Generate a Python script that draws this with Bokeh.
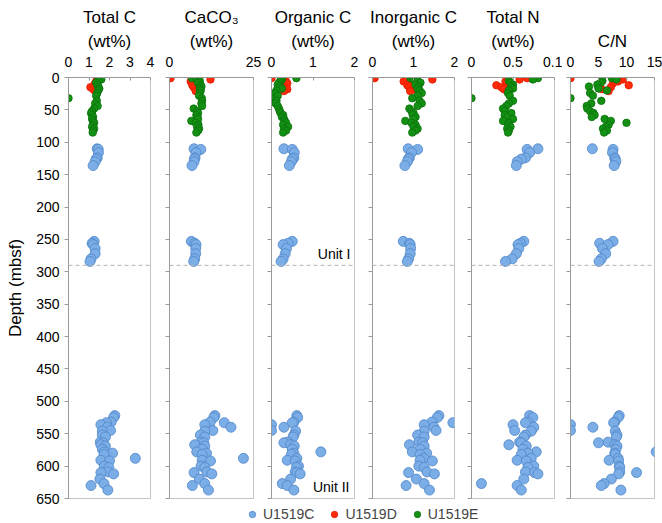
from bokeh.plotting import figure
from bokeh.models import Range1d, FixedTicker, Span, Label, Title, Legend, LegendItem, ColumnDataSource
from bokeh.layouts import row, column
from bokeh.embed import file_html
from bokeh.resources import INLINE

# ---------------- data ----------------
# Site U1519D (red)
depth_D = [1, 3, 6, 9, 12, 15, 18, 21]
tc_D = [1.40, 1.45, 1.35, 1.30, 1.25, 1.07, 1.20, 1.30]
caco3_D = [0.3, 12.2, 6.3, 8.0, 6.8, 7.2, 8.3, 7.8]
toc_D = [0.00, 0.30, 0.35, 0.38, 0.25, 0.32, 0.38, 0.30]
ic_D = [0.05, 1.46, 0.76, 0.95, 0.85, 0.90, 1.00, 0.92]
tn_D = [0.067, 0.058, 0.041, 0.045, 0.030, 0.036, 0.039, 0.043]
cn_D = [0.0, 9.4, 8.5, 7.6, 10.4, 7.2, 5.6, 6.8]

# Site U1519E (green)
depth_E = [1, 3, 5, 8, 11, 14, 17, 20, 24, 28, 32, 36, 40, 44, 48, 52, 55, 58, 61, 64,
           67, 70, 73, 76, 79, 82, 85]
tc_E = [1.50, 1.60, 1.45, 1.35, 1.40, 1.45, 1.50, 1.45, 1.40, 1.35, 0.00, 1.38, 1.30, 1.42,
        1.25, 1.15, 1.10, 1.15, 1.20, 1.15, 1.20, 1.25, 1.20, 1.15, 1.25, 1.20, 1.18]
caco3_E = [6.7, 8.1, 9.0, 8.5, 9.2, 9.5, 9.0, 9.3, 9.0, 8.8, 9.6, 9.7, 9.5, 9.7, 7.2, 8.2,
           8.5, 8.0, 8.3, 8.5, 6.5, 7.8, 8.6, 8.2, 8.8, 8.5, 8.0]
toc_E = [0.60, 0.25, 0.22, 0.18, 0.15, 0.20, 0.25, 0.12, 0.08, 0.15, 0.00, 0.12, 0.10, 0.15,
         0.18, 0.20, 0.22, 0.28, 0.25, 0.30, 0.32, 0.35, 0.28, 0.40, 0.30, 0.35, 0.28]
ic_E = [0.93, 1.00, 1.10, 1.17, 1.05, 1.12, 1.10, 1.15, 1.20, 1.10, 0.97, 1.15, 1.20, 1.10,
        0.90, 0.95, 1.00, 0.98, 1.05, 1.00, 0.80, 0.95, 1.05, 1.00, 1.10, 1.05, 0.97]
tn_E = [0.080, 0.074, 0.045, 0.047, 0.050, 0.048, 0.050, 0.045, 0.044, 0.046, 0.000, 0.050,
        0.045, 0.042, 0.038, 0.040, 0.048, 0.040, 0.043, 0.050, 0.038, 0.045, 0.044, 0.047,
        0.043, 0.045, 0.044]
cn_E = [7.4, 8.2, 5.7, 5.4, 4.8, 3.3, 5.0, 6.5, 3.5, 4.0, 0.0, 5.5, 3.7, 2.9, 3.0, 3.5, 4.1,
        4.3, 3.8, 6.1, 7.2, 10.0, 6.8, 6.3, 5.8, 6.5, 6.0]

# Site U1519C (blue)
depth_C = [110, 111, 116, 124, 126, 130, 136,
           253, 256, 258, 264, 272, 280, 284,
           522, 525, 532, 533, 536, 540, 545, 546, 552, 555, 563, 564, 567, 569, 574, 578,
           580, 582, 588, 591, 592, 600, 602, 609, 610, 612, 620, 627, 630, 637]
tc_C = [1.40, 1.45, 1.46, 1.40, 1.35, 1.30, 1.20,
        1.25, 1.15, 1.20, 1.30, 1.30, 1.10, 1.05,
        2.26, 2.20, 2.08, 1.85, 1.58, 1.90, 2.05, 1.65, 1.65, 1.80, 1.55, 1.70, 1.58, 1.80,
        1.65, 1.75, 2.15, 1.73, 3.26, 1.58, 2.00, 1.75, 1.97, 1.92, 1.58, 2.20, 1.53, 1.73,
        1.10, 1.92]
caco3_C = [7.3, 9.3, 7.9, 7.6, 7.4, 7.3, 6.7,
           6.5, 7.5, 7.9, 7.8, 7.8, 7.5, 7.2,
           13.5, 13.2, 12.1, 16.3, 10.5, 18.3, 12.9, 10.5, 9.2, 10.5, 9.4, 10.2, 7.5, 10.5,
           9.7, 8.1, 11.0, 9.7, 22.0, 9.7, 12.2, 9.4, 10.5, 11.1, 7.3, 12.6, 8.9, 10.5, 6.8,
           11.6]
toc_C = [0.30, 0.50, 0.55, 0.54, 0.50, 0.48, 0.43,
         0.50, 0.40, 0.28, 0.36, 0.33, 0.28, 0.23,
         0.61, 0.63, 0.54, 0.50, 0.00, 0.30, 0.00, 0.58, 0.54, 0.52, 0.39, 0.30, 0.46, 0.55,
         0.50, 1.19, 0.54, 0.48, 0.61, 0.38, 0.57, 0.65, 0.60, 0.57, 0.62, 0.69, 0.46, 0.26,
         0.38, 0.54]
ic_C = [0.87, 1.10, 0.95, 0.90, 0.87, 0.85, 0.79,
        0.75, 0.90, 0.92, 0.93, 0.92, 0.88, 0.85,
        1.62, 1.58, 1.45, 1.96, 1.26, 1.50, 1.55, 1.26, 1.10, 1.26, 1.13, 1.22, 0.90, 1.26,
        1.16, 0.97, 1.32, 1.16, 1.25, 1.16, 1.46, 1.13, 1.26, 1.33, 0.88, 1.51, 1.07, 1.26,
        0.82, 1.39]
tn_C = [0.080, 0.067, 0.070, 0.065, 0.060, 0.055, 0.054,
        0.063, 0.059, 0.056, 0.057, 0.054, 0.049, 0.041,
        0.070, 0.074, 0.068, 0.065, 0.050, 0.075, 0.052, 0.072, 0.065, 0.063, 0.058, 0.060,
        0.045, 0.066, 0.062, 0.078, 0.068, 0.060, 0.072, 0.055, 0.066, 0.075, 0.068, 0.065,
        0.076, 0.080, 0.063, 0.012, 0.055, 0.060]
cn_C = [3.9, 7.6, 7.5, 7.9, 8.0, 8.1, 7.8,
        7.6, 5.2, 6.7, 5.7, 6.3, 5.5, 5.1,
        8.7, 8.5, 7.9, 7.7, 0.0, 4.0, 0.0, 8.0, 8.3, 8.2, 6.7, 5.0, 7.9, 8.3, 8.1, 15.3,
        7.9, 8.0, 8.5, 6.9, 8.6, 8.7, 8.8, 8.8, 11.8, 8.6, 7.3, 6.0, 5.5, 9.0]

site_names = ["U1519C", "U1519D", "U1519E"]
depth_ticks = list(range(0, 651, 50))
unit_boundary = 290

# panel definitions: title lines, values per site, x range, ticks, tick label overrides
panels = [
    dict(t1="Total C", t2="(wt%)", vals=(tc_C, tc_D, tc_E), xr=(0, 4), ticks=[0, 1, 2, 3, 4], ov=None),
    dict(t1="CaCO\u2083", t2="(wt%)", vals=(caco3_C, caco3_D, caco3_E), xr=(0, 25), ticks=[0, 25], ov=None),
    dict(t1="Organic C", t2="(wt%)", vals=(toc_C, toc_D, toc_E), xr=(0, 2), ticks=[0, 1, 2], ov=None),
    dict(t1="Inorganic C", t2="(wt%)", vals=(ic_C, ic_D, ic_E), xr=(0, 2), ticks=[0, 1, 2], ov=None),
    dict(t1="Total N", t2="(wt%)", vals=(tn_C, tn_D, tn_E), xr=(0, 0.1), ticks=[0, 0.05, 0.1],
         ov={0: "0", 0.05: "0.5", 0.1: "0.1"}),
    dict(t1=None, t2="C/N", vals=(cn_C, cn_D, cn_E), xr=(0, 15), ticks=[0, 5, 10, 15], ov=None),
]
borders = [(68, 9), (10, 9), (9, 9), (9, 8), (9, 8), (8, 8)]
frame_w = [82, 84, 83, 82, 83, 84]

FONT = "Liberation Sans"
styles = [
    dict(fill_color="#7BADE6", line_color="#4F86C9", size=10),
    dict(fill_color="#FF2A0A", line_color="#E01E00", size=7.5),
    dict(fill_color="#139113", line_color="#0B700B", size=7.5),
]
depths = [depth_C, depth_D, depth_E]

figs = []
for i, pan in enumerate(panels):
    lb, rb = borders[i]
    p = figure(width=lb + frame_w[i] + rb, height=505,
               x_range=Range1d(*pan["xr"]), y_range=Range1d(650, 0),
               x_axis_location="above", output_backend="svg", toolbar_location=None,
               min_border_left=lb, min_border_right=rb, min_border_top=77, min_border_bottom=7,
               background_fill_color="white", border_fill_color="white")
    p.grid.visible = False
    p.outline_line_color = "#c4c4c4"

    xa = p.xaxis[0]
    xa.ticker = FixedTicker(ticks=pan["ticks"])
    if pan["ov"]:
        xa.major_label_overrides = pan["ov"]
    xa.major_tick_in = 3
    xa.major_tick_out = 0
    xa.minor_tick_line_color = None
    xa.axis_line_color = "#9a9a9a"
    xa.major_tick_line_color = "#9a9a9a"
    xa.major_label_text_font = FONT
    xa.major_label_text_font_size = "14px"
    xa.major_label_text_color = "black"
    xa.major_label_standoff = 11

    ya = p.yaxis[0]
    ya.ticker = FixedTicker(ticks=depth_ticks)
    ya.major_tick_out = 4
    ya.major_tick_in = 0
    ya.minor_tick_line_color = None
    ya.axis_line_color = "#9a9a9a"
    ya.major_tick_line_color = "#9a9a9a"
    if i == 0:
        ya.major_label_text_font = FONT
        ya.major_label_text_font_size = "14px"
        ya.major_label_text_color = "black"
        ya.major_label_standoff = 5
        ya.axis_label = "Depth (mbsf)"
        ya.axis_label_text_font = FONT
        ya.axis_label_text_font_size = "17px"
        ya.axis_label_text_font_style = "normal"
        ya.axis_label_text_color = "black"
        ya.axis_label_standoff = 8
    else:
        ya.major_label_text_font_size = "0px"
        ya.major_label_text_color = None
        ya.major_label_text_alpha = 0
        ya.major_label_standoff = 0

    p.add_layout(Title(text=pan["t2"], align="center", text_font=FONT, text_font_size="17px",
                       text_font_style="normal", text_color="black", standoff=5), "above")
    if pan["t1"]:
        p.add_layout(Title(text=pan["t1"], align="center", text_font=FONT, text_font_size="17px",
                           text_font_style="normal", text_color="black", standoff=1), "above")

    p.add_layout(Span(location=unit_boundary, dimension="width", line_color="#b4b4b4",
                      line_dash="4 3", line_width=1))

    for d, v, st in zip(depths, pan["vals"], styles):
        src = ColumnDataSource(dict(x=v, y=d))
        p.scatter("x", "y", source=src, marker="circle", line_width=0.8, **st)

    if i == 2:
        p.add_layout(Label(x=pan["xr"][1], y=unit_boundary, x_offset=-4, y_offset=3, text="Unit I",
                           text_align="right", text_baseline="bottom", text_font=FONT,
                           text_font_size="14px", text_color="black"))
        p.add_layout(Label(x=pan["xr"][1], y=650, x_offset=-5, y_offset=4, text="Unit II",
                           text_align="right", text_baseline="bottom", text_font=FONT,
                           text_font_size="14px", text_color="black"))
    figs.append(p)

# legend strip
lf = figure(width=662, height=18, x_range=Range1d(0, 1), y_range=Range1d(0, 1),
            output_backend="svg", toolbar_location=None, min_border=0,
            x_axis_type=None, y_axis_type=None, outline_line_color=None)
lf.grid.visible = False
items = []
for name, st in zip(site_names, styles):
    r = lf.scatter([-5], [-5], marker="circle", line_width=0.8, **st)
    items.append(LegendItem(label=name, renderers=[r]))
leg = Legend(items=items, orientation="horizontal", location=(244, 0),
             border_line_color=None, background_fill_alpha=0, padding=0, margin=0,
             spacing=12, label_standoff=3, glyph_width=16, glyph_height=18,
             label_text_font=FONT, label_text_font_size="14px", label_height=16)
lf.add_layout(leg)

layout = column(row(*figs, spacing=0), lf, spacing=0)
open("out.html", "w").write(file_html(layout, INLINE))
